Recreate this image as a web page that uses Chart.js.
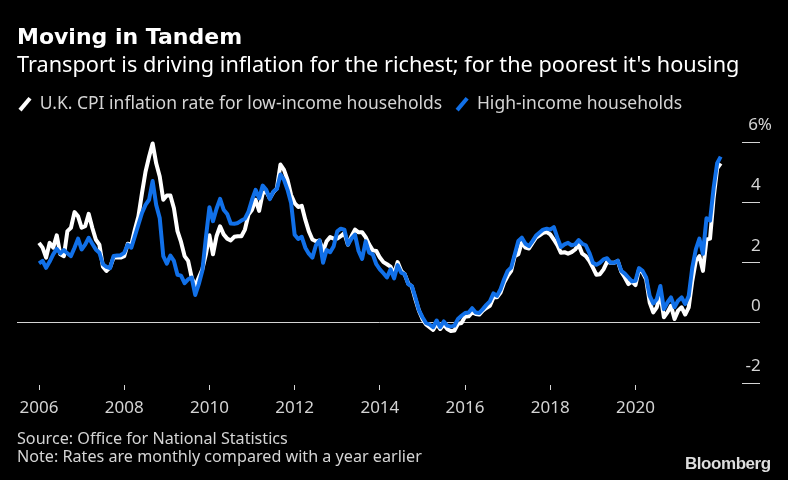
<!DOCTYPE html>
<html><head><meta charset="utf-8">
<style>
html,body{margin:0;padding:0;background:#000;width:788px;height:480px;overflow:hidden}
#wrap{position:relative;width:788px;height:480px}
canvas{position:absolute;left:0;top:0}
.t{position:absolute;white-space:nowrap;color:#d4d4d4;font-family:"Noto Sans",sans-serif;font-size:16.15px;line-height:18px;transform-origin:left center}
</style>
<script src="https://cdn.jsdelivr.net/npm/chart.js@4/dist/chart.umd.min.js"></script>
</head><body><div id="wrap"><canvas id="c" width="788" height="480"></canvas>
<div class="t" style="left:17px;top:429px">Source: Office for National Statistics</div>
<div class="t" style="left:17px;top:447px">Note: Rates are monthly compared with a year earlier</div>
<div class="t" style="left:685px;top:455px;font-family:'Liberation Sans';font-weight:bold;font-size:17px;color:#ddd;letter-spacing:-0.45px">Bloomberg</div>
</div>
<script>
const titleText = "Moving in Tandem";
const subtitleText = "Transport is driving inflation for the richest; for the poorest it's housing";
const lowLabel = "U.K. CPI inflation rate for low-income households";
const highLabel = "High-income households";
const xTickMonths = [0,24,48,72,96,120,144,168];
const yTicks = [-2,0,2,4,6];
const low = [2.66,2.5,2.17,2.66,2.5,2.91,2.28,2.22,3.05,3.16,3.68,3.54,
3.16,3.21,3.62,3.16,2.77,2.6,1.87,1.73,1.84,2.17,2.17,2.17,
2.22,2.63,2.6,3.1,3.54,4.31,5.02,5.52,5.96,5.3,4.86,4.09,
4.23,4.23,3.81,3.05,2.69,2.22,2.06,1.51,1.23,1.51,1.78,2.28,
2.91,2.28,2.88,3.21,2.94,2.8,2.74,2.86,2.88,2.88,3.1,3.6,
3.76,4.09,3.72,4.31,4.36,4.14,4.34,4.47,5.26,5.08,4.75,4.25,
3.98,3.85,3.89,3.43,3.04,2.77,2.71,2.74,2.39,2.71,2.85,2.8,
2.8,2.88,2.99,2.6,2.88,3.1,3.01,3.01,2.85,2.6,2.41,2.39,
2.17,2.02,1.95,1.87,1.62,2.02,1.73,1.62,1.31,1.21,0.79,0.41,
0.13,-0.05,-0.14,-0.23,-0.03,-0.2,-0.05,-0.2,-0.27,-0.25,-0.03,0.0,
0.21,0.22,0.35,0.3,0.28,0.41,0.5,0.57,0.85,0.85,1.01,1.34,
1.56,1.73,2.22,2.28,2.69,2.5,2.47,2.66,2.83,2.91,2.99,3.02,
2.94,2.77,2.58,2.33,2.35,2.3,2.35,2.44,2.6,2.3,2.22,2.06,
1.84,1.6,1.62,1.78,2.03,2.0,2.0,2.06,1.7,1.51,1.29,1.38,
1.26,1.78,1.67,1.45,0.68,0.35,0.52,0.96,0.19,0.35,0.57,0.13,
0.41,0.52,0.28,0.52,1.4,2.06,2.22,1.73,2.77,2.8,4.14,5.13,5.3];
const high = [1.98,2.06,1.83,2.04,2.28,2.46,2.31,2.42,2.31,2.22,2.5,2.8,
2.44,2.6,2.83,2.63,2.44,2.33,1.95,1.86,1.82,2.22,2.24,2.25,
2.33,2.6,2.5,2.88,3.27,3.65,3.92,4.09,4.71,3.92,3.48,2.22,
1.97,2.24,2.06,1.6,1.57,1.32,1.45,1.51,0.93,1.29,1.73,2.83,
3.84,3.38,3.79,4.12,3.76,3.62,3.3,3.29,3.32,3.4,3.46,3.7,
4.09,4.42,4.14,4.56,4.42,4.11,4.36,4.45,4.93,4.75,4.42,3.98,
2.93,2.79,2.86,2.5,2.3,2.17,2.58,2.74,2.0,2.42,2.35,2.55,
3.04,3.13,3.1,2.6,2.8,2.93,2.39,2.13,2.71,2.33,2.28,1.95,
1.78,1.65,1.51,1.78,1.48,1.92,1.67,1.62,1.29,1.23,0.85,0.43,
0.19,0.0,-0.05,-0.14,0.08,-0.14,0.05,-0.09,-0.12,-0.09,0.13,0.24,
0.33,0.35,0.49,0.35,0.33,0.46,0.6,0.72,0.98,0.9,1.12,1.45,
1.73,1.84,2.28,2.72,2.83,2.63,2.55,2.72,2.9,3.0,3.1,3.13,
3.1,3.18,2.83,2.52,2.61,2.66,2.58,2.61,2.75,2.63,2.58,2.33,
2.0,1.93,2.0,2.11,2.15,2.0,2.0,2.07,1.73,1.64,1.51,1.38,
1.4,1.82,1.73,1.51,0.9,0.65,0.79,1.23,0.46,0.68,0.85,0.52,
0.74,0.85,0.63,0.9,1.84,2.44,2.8,2.3,3.48,3.4,4.47,5.3,5.52];

const PCT_PAD = '\u2002\u2009';
const labelFont = {family:'"Noto Sans"', size:17};
const legendFont = {family:'"Noto Sans"', size:17.5};
const nudge = {id:'nudge', afterLayout(chart){ chart.legend.left -= 12; }};

new Chart(document.getElementById('c'), {
  type:'line',
  plugins:[nudge],
  data:{datasets:[
    {label:lowLabel, data:low.map((y,x)=>({x,y})), borderColor:'#ffffff', backgroundColor:'#ffffff', borderWidth:4, pointRadius:0, tension:0, order:2, borderJoinStyle:'round'},
    {label:highLabel, data:high.map((y,x)=>({x,y})), borderColor:'#1170e8', backgroundColor:'#1170e8', borderWidth:4, pointRadius:0, tension:0, order:1, borderJoinStyle:'round'}
  ]},
  options:{
    responsive:false, animation:false, events:[],
    layout:{padding:{left:17,right:16,top:0,bottom:0}},
    plugins:{
      tooltip:{enabled:false},
      title:{display:true,text:titleText,align:'start',color:'#fff',
        font:{family:'"DejaVu Sans"',size:22,weight:'bold',lineHeight:1.2},padding:{top:25,bottom:0}},
      subtitle:{display:true,text:subtitleText,align:'start',color:'#fff',
        font:{family:'"Noto Sans"',size:21.7,lineHeight:1.2},padding:{top:1,bottom:3}},
      legend:{display:true,position:'top',align:'start',
        labels:{color:'#d4d4d4',font:legendFont,padding:14,usePointStyle:true,boxWidth:12,boxHeight:11,
          generateLabels(chart){
            return chart.data.datasets.map((d,i)=>({text:d.label,fillStyle:d.borderColor,strokeStyle:d.borderColor,
              lineWidth:4,pointStyle:'line',rotation:-50,hidden:false,datasetIndex:i,fontColor:'#d4d4d4'}));
          }}}
    },
    scales:{
      x:{type:'linear',min:-6.2,max:198,
        afterBuildTicks(s){s.ticks=xTickMonths.map(value=>({value}));},
        afterFit(s){s.height=95;},
        grid:{drawOnChartArea:false,drawTicks:true,tickLength:5,tickColor:'#d4d4d4',tickWidth:1},
        border:{display:false},
        ticks:{color:'#d4d4d4',font:labelFont,padding:8,maxRotation:0,autoSkip:false,
          callback:v=>String(2006+v/12)}},
      y:{type:'linear',position:'right',min:-2.059,max:6.64,
        afterBuildTicks(s){s.ticks=yTicks.map(value=>({value}));},
        afterFit(s){s.width=30;},
        grid:{tickLength:18,tickWidth:1,lineWidth:1,
          tickColor:'#d4d4d4',
          color:c=>c.tick&&c.tick.value===0?'#d4d4d4':'rgba(0,0,0,0)'},
        border:{display:false},
        ticks:{color:'#d4d4d4',font:labelFont,padding:0,crossAlign:'far',labelOffset:-17,autoSkip:false,
          callback:v=>v===6?'6%':String(v)+PCT_PAD}}
    }
  }
});
</script></body></html>
